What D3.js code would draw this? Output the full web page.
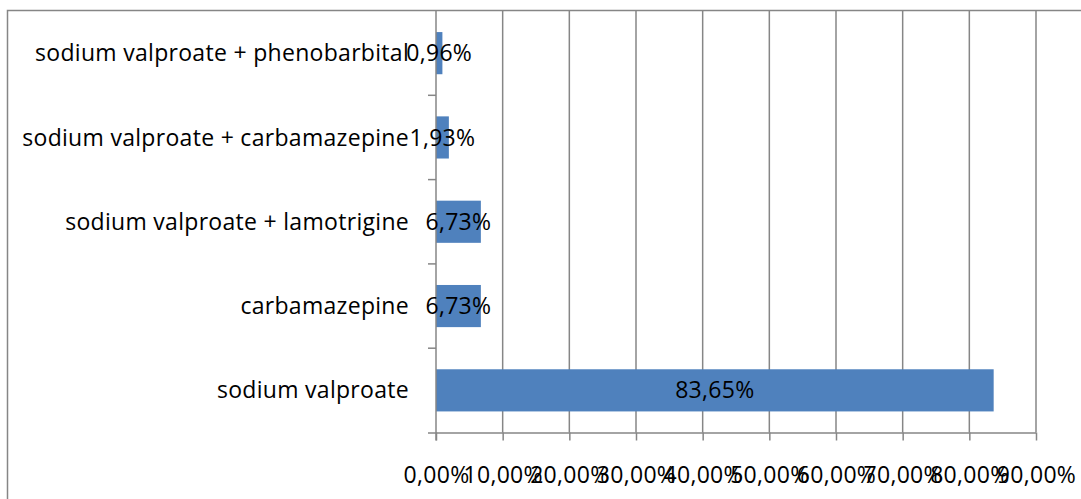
<!DOCTYPE html>
<html>
<head>
<meta charset="utf-8">
<script src="https://cdn.jsdelivr.net/npm/d3@7"></script>
<style>
  body { margin: 0; background: #fff; }
  svg { display: block; }
</style>
</head>
<body>
<script>
// values
var categories = ['sodium valproate', 'carbamazepine', 'sodium valproate + lamotrigine',
                  'sodium valproate + carbamazepine', 'sodium valproate + phenobarbital']
var shares = [83.65, 6.73, 6.73, 1.93, 0.96]
var tick_values = [0, 10, 20, 30, 40, 50, 60, 70, 80, 90]

var BAR_BLUE = '#4f81bd'
var GRID_GREY = '#868686'
var FONT = '"Open Sans", "Noto Sans", sans-serif'
var FONT_SIZE = '23px'

var W = 1081, H = 499
var plot_l = 436, plot_r = 1036, plot_t = 11, plot_b = 432.5

var svg = d3.select('body').append('svg').attr('width', W).attr('height', H)

// outer frame of the chart, runs off the right and bottom edges
svg.append('path')
   .attr('d', 'M7.5,' + (H + 2) + 'V10.5H' + (W + 2))
   .attr('fill', 'none')
   .attr('stroke', GRID_GREY)
   .attr('stroke-width', 1.5)

var x = d3.scaleLinear().domain([0, 90]).range([plot_l, plot_r])
var y = d3.scaleBand().domain(categories.slice().reverse()).range([plot_t, plot_b]).paddingInner(0.5).paddingOuter(0.25)

function pct(d){
  return d3.format('.2f')(d).replace('.', ',') + '%'
}

function style_text(sel){
  sel.attr('font-size', FONT_SIZE)
     .attr('font-family', FONT)
     .attr('letter-spacing', '0.3px')
     .attr('fill', '#000')
}

// vertical gridlines
svg.append('g').selectAll('line')
   .data(tick_values.slice(1))
   .enter().append('line')
   .attr('x1', function(d){ return x(d) }).attr('x2', function(d){ return x(d) })
   .attr('y1', plot_t).attr('y2', plot_b)
   .attr('stroke', GRID_GREY).attr('stroke-width', 1.5)

// bars
svg.append('g').selectAll('rect')
   .data(shares)
   .enter().append('rect')
   .attr('x', x(0))
   .attr('y', function(d, i){ return y(categories[i]) })
   .attr('width', function(d){ return x(d) - x(0) })
   .attr('height', y.bandwidth())
   .attr('fill', BAR_BLUE)

// x axis
var xAxis = d3.axisBottom(x).tickValues(tick_values).tickSize(8).tickPadding(26).tickFormat(pct)
var gx = svg.append('g').attr('transform', 'translate(0,' + plot_b + ')').call(xAxis)
gx.select('.domain').attr('d', 'M' + (plot_l - 8) + ',0.5H' + plot_r).attr('stroke', GRID_GREY).attr('stroke-width', 1.5)
gx.selectAll('.tick line').attr('stroke', GRID_GREY).attr('stroke-width', 1.5)
gx.selectAll('.tick text').call(style_text)

// category axis: line plus ticks between the bands
var step = (plot_b - plot_t) / categories.length
var gy = svg.append('g')
gy.append('line').attr('x1', plot_l).attr('x2', plot_l).attr('y1', plot_t).attr('y2', plot_b + 8)
  .attr('stroke', GRID_GREY).attr('stroke-width', 1.5)
gy.selectAll('line.t')
  .data(d3.range(1, categories.length))
  .enter().append('line').attr('class', 't')
  .attr('x1', plot_l - 8).attr('x2', plot_l)
  .attr('y1', function(k){ return plot_t + k * step }).attr('y2', function(k){ return plot_t + k * step })
  .attr('stroke', GRID_GREY).attr('stroke-width', 1.5)

gy.selectAll('text.cat')
  .data(categories)
  .enter().append('text').attr('class', 'cat')
  .text(function(d){ return d })
  .attr('x', plot_l - 27)
  .attr('y', function(d){ return y(d) + y.bandwidth() / 2 })
  .attr('dy', '0.35em')
  .attr('text-anchor', 'end')
  .call(style_text)

// value labels, centred on the bar
svg.append('g').selectAll('text')
   .data(shares)
   .enter().append('text')
   .text(pct)
   .attr('x', function(d){ return (x(0) + x(d)) / 2 })
   .attr('y', function(d, i){ return y(categories[i]) + y.bandwidth() / 2 })
   .attr('dy', '0.35em')
   .attr('text-anchor', 'middle')
   .call(style_text)
</script>
</body>
</html>
